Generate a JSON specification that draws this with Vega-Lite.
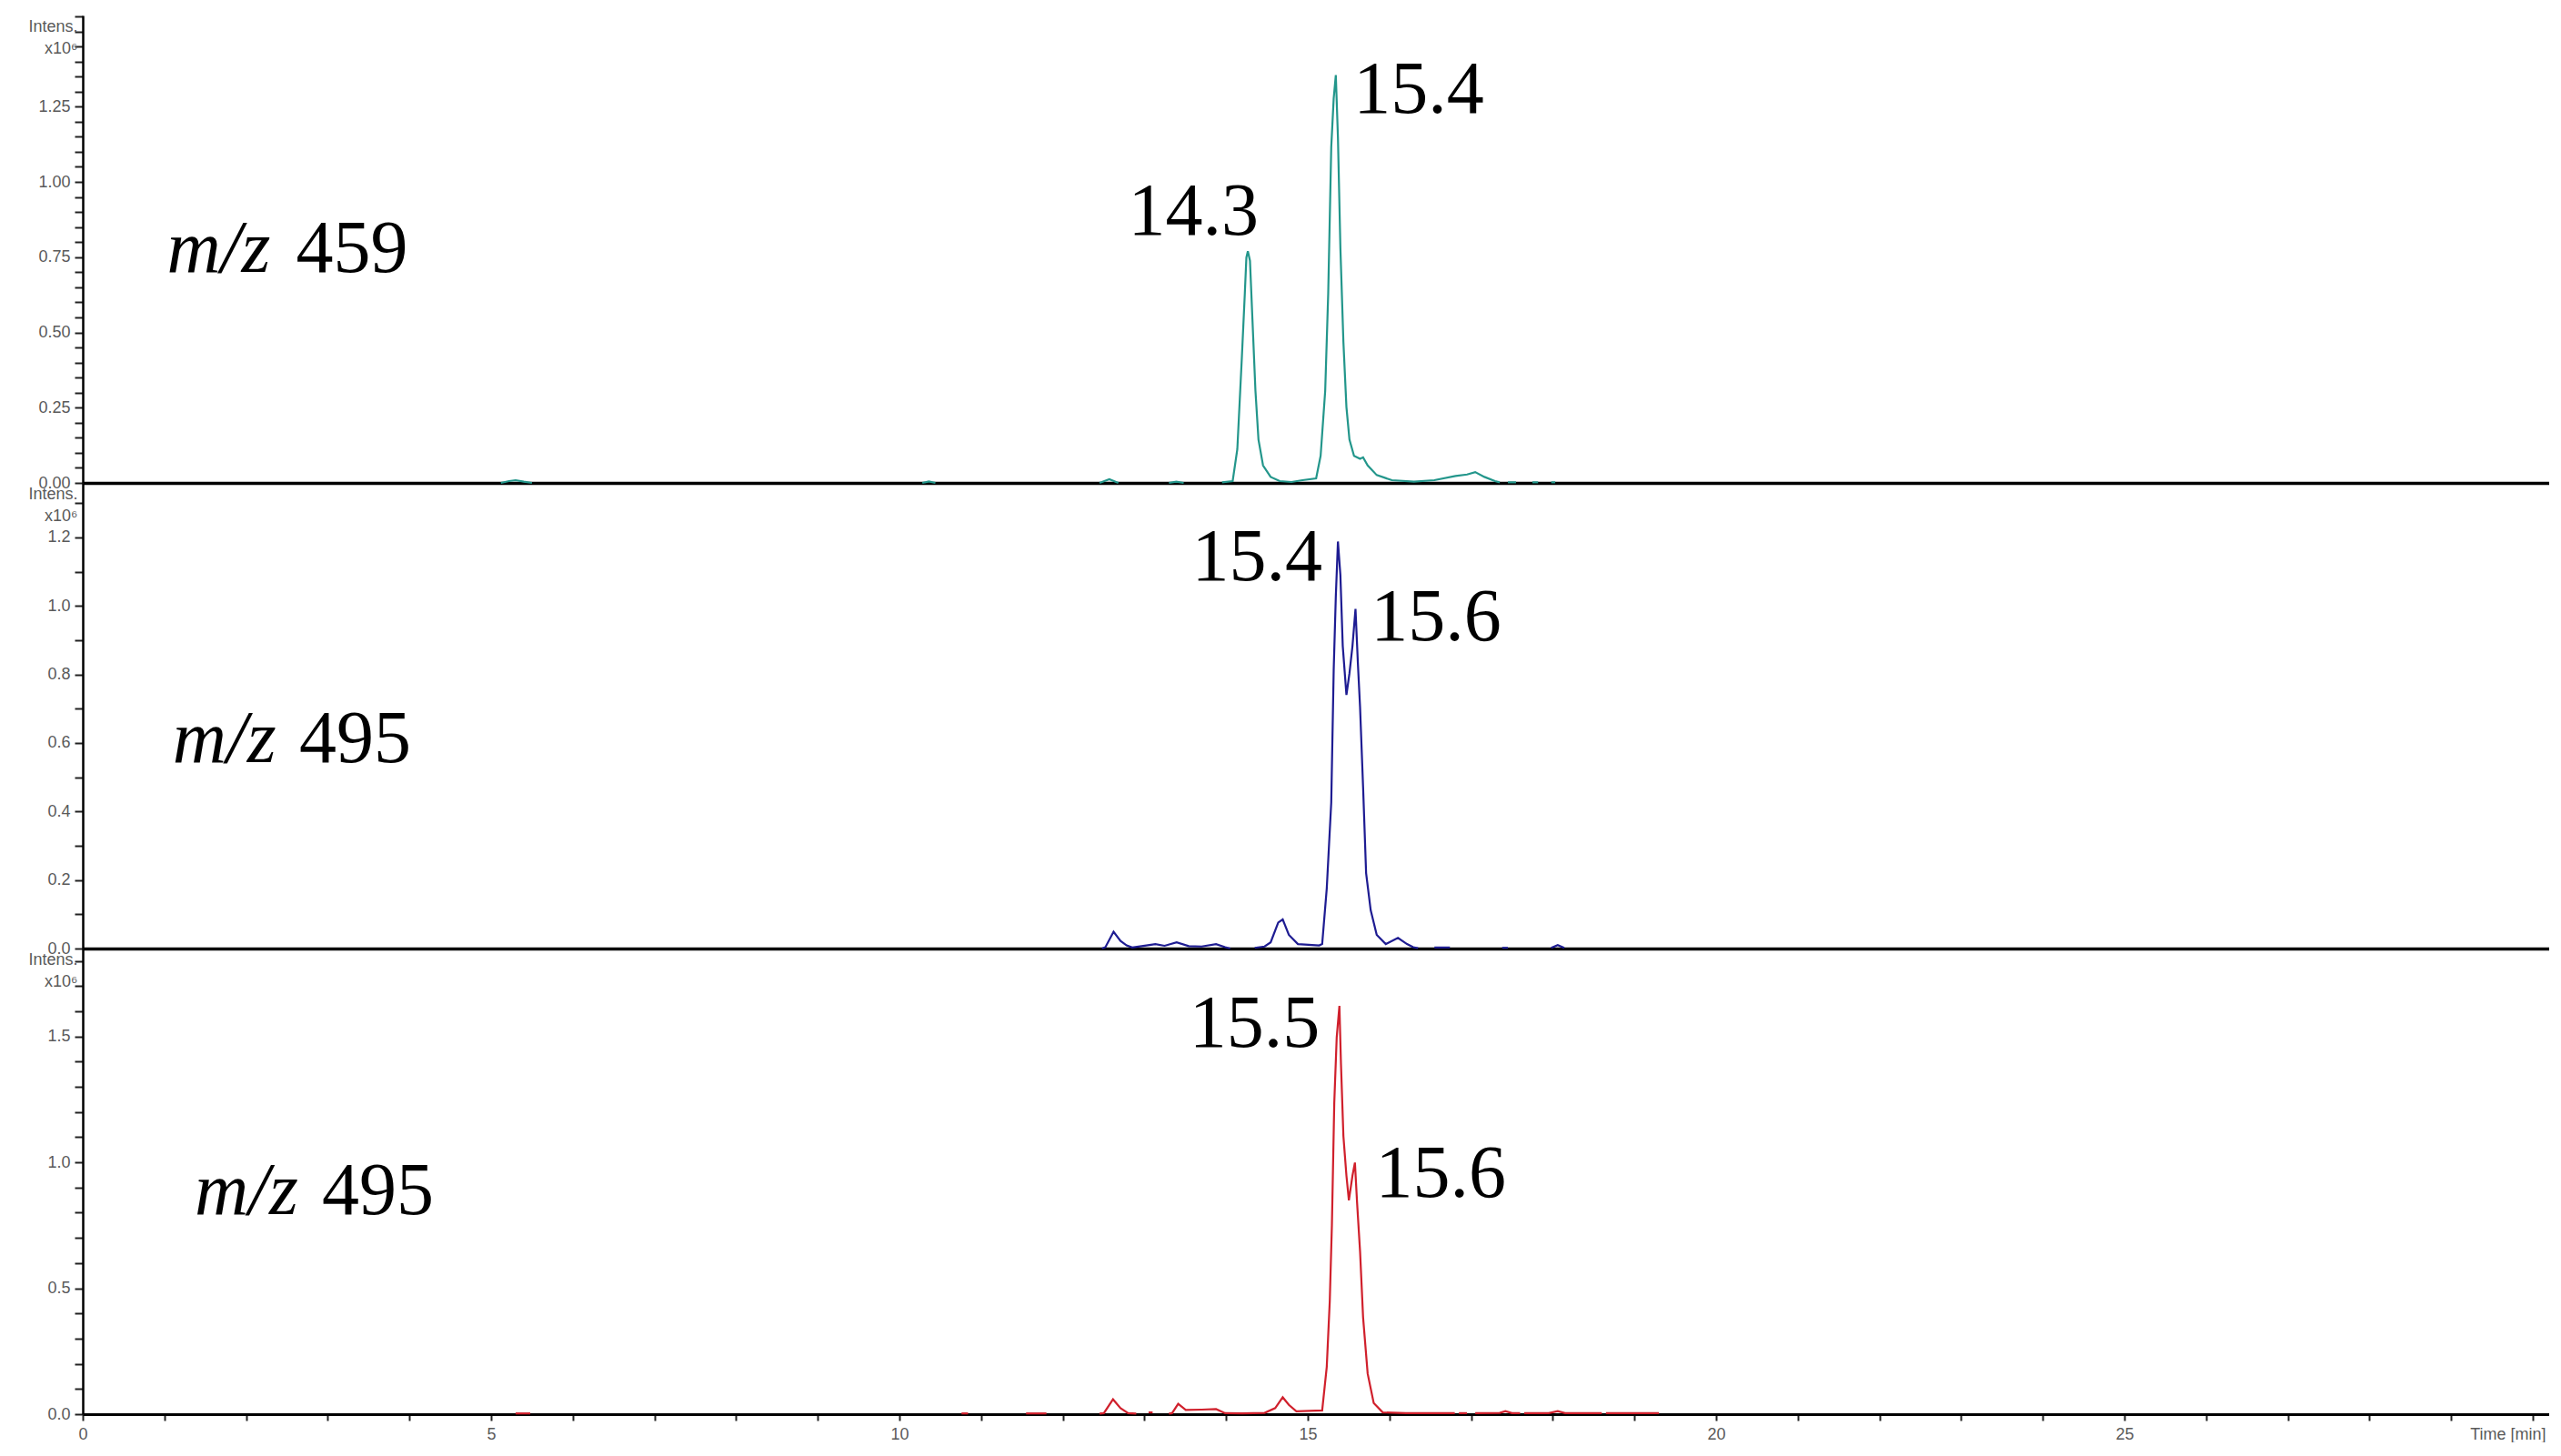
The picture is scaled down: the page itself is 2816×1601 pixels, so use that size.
{
  "$schema": "https://vega.github.io/schema/vega-lite/v6.json",
  "padding": {"left": 30, "top": 8, "right": 0, "bottom": 0},
  "spacing": 0,
  "bounds": "flush",
  "background": "white",
  "config": {
    "view": {"stroke": null},
    "axis": {
      "labelFont": "Liberation Sans",
      "labelFontSize": 18,
      "labelColor": "#5a5a5a",
      "titleFont": "Liberation Sans",
      "titleFontSize": 18,
      "titleFontWeight": "normal",
      "titleColor": "#5a5a5a",
      "domainColor": "#000000",
      "tickColor": "#222222",
      "grid": false,
      "labelOverlap": false,
      "labelFlush": false,
      "labelBound": false
    },
    "text": {"font": "Liberation Serif", "fontSize": 82, "color": "#000000", "align": "left", "baseline": "alphabetic"}
  },
  "datasets": {
    "trace": [
      {"panel": "a", "seg": "a1", "t": 5.12, "v": 0},
      {"panel": "a", "seg": "a1", "t": 5.22, "v": 0.006},
      {"panel": "a", "seg": "a1", "t": 5.30, "v": 0.009},
      {"panel": "a", "seg": "a1", "t": 5.40, "v": 0.004},
      {"panel": "a", "seg": "a1", "t": 5.50, "v": 0},
      {"panel": "a", "seg": "a2", "t": 10.28, "v": 0},
      {"panel": "a", "seg": "a2", "t": 10.36, "v": 0.005},
      {"panel": "a", "seg": "a2", "t": 10.44, "v": 0},
      {"panel": "a", "seg": "a3", "t": 12.45, "v": 0},
      {"panel": "a", "seg": "a3", "t": 12.57, "v": 0.012},
      {"panel": "a", "seg": "a3", "t": 12.68, "v": 0},
      {"panel": "a", "seg": "a4", "t": 13.30, "v": 0},
      {"panel": "a", "seg": "a4", "t": 13.39, "v": 0.004},
      {"panel": "a", "seg": "a4", "t": 13.48, "v": 0},
      {"panel": "a", "seg": "a5", "t": 13.95, "v": 0.002},
      {"panel": "a", "seg": "a5", "t": 14.08, "v": 0.006},
      {"panel": "a", "seg": "a5", "t": 14.137, "v": 0.112},
      {"panel": "a", "seg": "a5", "t": 14.192, "v": 0.414},
      {"panel": "a", "seg": "a5", "t": 14.229, "v": 0.630},
      {"panel": "a", "seg": "a5", "t": 14.248, "v": 0.749},
      {"panel": "a", "seg": "a5", "t": 14.266, "v": 0.770},
      {"panel": "a", "seg": "a5", "t": 14.292, "v": 0.738},
      {"panel": "a", "seg": "a5", "t": 14.322, "v": 0.544},
      {"panel": "a", "seg": "a5", "t": 14.359, "v": 0.306},
      {"panel": "a", "seg": "a5", "t": 14.396, "v": 0.144},
      {"panel": "a", "seg": "a5", "t": 14.452, "v": 0.058},
      {"panel": "a", "seg": "a5", "t": 14.545, "v": 0.020},
      {"panel": "a", "seg": "a5", "t": 14.656, "v": 0.006},
      {"panel": "a", "seg": "a5", "t": 14.80, "v": 0.003},
      {"panel": "a", "seg": "a5", "t": 14.935, "v": 0.009},
      {"panel": "a", "seg": "a5", "t": 15.102, "v": 0.015},
      {"panel": "a", "seg": "a5", "t": 15.157, "v": 0.090},
      {"panel": "a", "seg": "a5", "t": 15.213, "v": 0.306},
      {"panel": "a", "seg": "a5", "t": 15.250, "v": 0.630},
      {"panel": "a", "seg": "a5", "t": 15.287, "v": 1.115},
      {"panel": "a", "seg": "a5", "t": 15.317, "v": 1.277},
      {"panel": "a", "seg": "a5", "t": 15.343, "v": 1.355},
      {"panel": "a", "seg": "a5", "t": 15.369, "v": 1.148},
      {"panel": "a", "seg": "a5", "t": 15.399, "v": 0.781},
      {"panel": "a", "seg": "a5", "t": 15.436, "v": 0.468},
      {"panel": "a", "seg": "a5", "t": 15.473, "v": 0.252},
      {"panel": "a", "seg": "a5", "t": 15.510, "v": 0.144},
      {"panel": "a", "seg": "a5", "t": 15.566, "v": 0.090},
      {"panel": "a", "seg": "a5", "t": 15.640, "v": 0.080},
      {"panel": "a", "seg": "a5", "t": 15.677, "v": 0.085},
      {"panel": "a", "seg": "a5", "t": 15.733, "v": 0.058},
      {"panel": "a", "seg": "a5", "t": 15.844, "v": 0.026},
      {"panel": "a", "seg": "a5", "t": 16.030, "v": 0.009},
      {"panel": "a", "seg": "a5", "t": 16.30, "v": 0.004},
      {"panel": "a", "seg": "a5", "t": 16.549, "v": 0.009},
      {"panel": "a", "seg": "a5", "t": 16.809, "v": 0.023},
      {"panel": "a", "seg": "a5", "t": 16.95, "v": 0.028},
      {"panel": "a", "seg": "a5", "t": 17.050, "v": 0.036},
      {"panel": "a", "seg": "a5", "t": 17.162, "v": 0.020},
      {"panel": "a", "seg": "a5", "t": 17.292, "v": 0.006},
      {"panel": "a", "seg": "a5", "t": 17.35, "v": 0.002},
      {"panel": "a", "seg": "a6", "t": 17.45, "v": 0.002},
      {"panel": "a", "seg": "a6", "t": 17.55, "v": 0.002},
      {"panel": "a", "seg": "a7", "t": 17.75, "v": 0.002},
      {"panel": "a", "seg": "a7", "t": 17.82, "v": 0.002},
      {"panel": "a", "seg": "a8", "t": 17.98, "v": 0.002},
      {"panel": "a", "seg": "a8", "t": 18.03, "v": 0.002},

      {"panel": "b", "seg": "b1", "t": 12.48, "v": 0},
      {"panel": "b", "seg": "b1", "t": 12.522, "v": 0.004},
      {"panel": "b", "seg": "b1", "t": 12.622, "v": 0.049},
      {"panel": "b", "seg": "b1", "t": 12.707, "v": 0.022},
      {"panel": "b", "seg": "b1", "t": 12.782, "v": 0.009},
      {"panel": "b", "seg": "b1", "t": 12.85, "v": 0.003},
      {"panel": "b", "seg": "b1", "t": 13.023, "v": 0.009},
      {"panel": "b", "seg": "b1", "t": 13.134, "v": 0.013},
      {"panel": "b", "seg": "b1", "t": 13.246, "v": 0.008},
      {"panel": "b", "seg": "b1", "t": 13.394, "v": 0.018},
      {"panel": "b", "seg": "b1", "t": 13.543, "v": 0.007},
      {"panel": "b", "seg": "b1", "t": 13.70, "v": 0.006},
      {"panel": "b", "seg": "b1", "t": 13.877, "v": 0.013},
      {"panel": "b", "seg": "b1", "t": 13.988, "v": 0.004},
      {"panel": "b", "seg": "b1", "t": 14.05, "v": 0},
      {"panel": "b", "seg": "b2", "t": 14.35, "v": 0.002},
      {"panel": "b", "seg": "b2", "t": 14.471, "v": 0.006},
      {"panel": "b", "seg": "b2", "t": 14.545, "v": 0.018},
      {"panel": "b", "seg": "b2", "t": 14.638, "v": 0.076},
      {"panel": "b", "seg": "b2", "t": 14.693, "v": 0.085},
      {"panel": "b", "seg": "b2", "t": 14.768, "v": 0.040},
      {"panel": "b", "seg": "b2", "t": 14.879, "v": 0.013},
      {"panel": "b", "seg": "b2", "t": 15.139, "v": 0.009},
      {"panel": "b", "seg": "b2", "t": 15.176, "v": 0.013},
      {"panel": "b", "seg": "b2", "t": 15.232, "v": 0.175},
      {"panel": "b", "seg": "b2", "t": 15.287, "v": 0.426},
      {"panel": "b", "seg": "b2", "t": 15.317, "v": 0.812},
      {"panel": "b", "seg": "b2", "t": 15.343, "v": 1.027},
      {"panel": "b", "seg": "b2", "t": 15.369, "v": 1.188},
      {"panel": "b", "seg": "b2", "t": 15.399, "v": 1.090},
      {"panel": "b", "seg": "b2", "t": 15.428, "v": 0.883},
      {"panel": "b", "seg": "b2", "t": 15.473, "v": 0.740},
      {"panel": "b", "seg": "b2", "t": 15.510, "v": 0.803},
      {"panel": "b", "seg": "b2", "t": 15.547, "v": 0.883},
      {"panel": "b", "seg": "b2", "t": 15.584, "v": 0.991},
      {"panel": "b", "seg": "b2", "t": 15.614, "v": 0.829},
      {"panel": "b", "seg": "b2", "t": 15.640, "v": 0.704},
      {"panel": "b", "seg": "b2", "t": 15.677, "v": 0.471},
      {"panel": "b", "seg": "b2", "t": 15.714, "v": 0.220},
      {"panel": "b", "seg": "b2", "t": 15.770, "v": 0.112},
      {"panel": "b", "seg": "b2", "t": 15.844, "v": 0.040},
      {"panel": "b", "seg": "b2", "t": 15.955, "v": 0.013},
      {"panel": "b", "seg": "b2", "t": 16.104, "v": 0.031},
      {"panel": "b", "seg": "b2", "t": 16.215, "v": 0.013},
      {"panel": "b", "seg": "b2", "t": 16.290, "v": 0.004},
      {"panel": "b", "seg": "b2", "t": 16.35, "v": 0.001},
      {"panel": "b", "seg": "b3", "t": 16.55, "v": 0.003},
      {"panel": "b", "seg": "b3", "t": 16.74, "v": 0.003},
      {"panel": "b", "seg": "b4", "t": 17.38, "v": 0.002},
      {"panel": "b", "seg": "b4", "t": 17.45, "v": 0.002},
      {"panel": "b", "seg": "b5", "t": 17.98, "v": 0.002},
      {"panel": "b", "seg": "b5", "t": 18.06, "v": 0.010},
      {"panel": "b", "seg": "b5", "t": 18.14, "v": 0.002},

      {"panel": "c", "seg": "c1", "t": 5.30, "v": 0.003},
      {"panel": "c", "seg": "c1", "t": 5.48, "v": 0.003},
      {"panel": "c", "seg": "c2", "t": 10.76, "v": 0.003},
      {"panel": "c", "seg": "c2", "t": 10.84, "v": 0.003},
      {"panel": "c", "seg": "c3", "t": 11.55, "v": 0.003},
      {"panel": "c", "seg": "c3", "t": 11.80, "v": 0.003},
      {"panel": "c", "seg": "c4", "t": 12.45, "v": 0.002},
      {"panel": "c", "seg": "c4", "t": 12.503, "v": 0.004},
      {"panel": "c", "seg": "c4", "t": 12.615, "v": 0.059},
      {"panel": "c", "seg": "c4", "t": 12.707, "v": 0.024},
      {"panel": "c", "seg": "c4", "t": 12.800, "v": 0.004},
      {"panel": "c", "seg": "c4", "t": 12.90, "v": 0.002},
      {"panel": "c", "seg": "c5", "t": 13.05, "v": 0.007},
      {"panel": "c", "seg": "c5", "t": 13.10, "v": 0.007},
      {"panel": "c", "seg": "c6", "t": 13.30, "v": 0.002},
      {"panel": "c", "seg": "c6", "t": 13.338, "v": 0.004},
      {"panel": "c", "seg": "c6", "t": 13.413, "v": 0.041},
      {"panel": "c", "seg": "c6", "t": 13.506, "v": 0.017},
      {"panel": "c", "seg": "c6", "t": 13.70, "v": 0.018},
      {"panel": "c", "seg": "c6", "t": 13.877, "v": 0.020},
      {"panel": "c", "seg": "c6", "t": 13.988, "v": 0.004},
      {"panel": "c", "seg": "c6", "t": 14.20, "v": 0.003},
      {"panel": "c", "seg": "c6", "t": 14.471, "v": 0.005},
      {"panel": "c", "seg": "c6", "t": 14.601, "v": 0.024},
      {"panel": "c", "seg": "c6", "t": 14.693, "v": 0.067},
      {"panel": "c", "seg": "c6", "t": 14.768, "v": 0.037},
      {"panel": "c", "seg": "c6", "t": 14.860, "v": 0.011},
      {"panel": "c", "seg": "c6", "t": 15.176, "v": 0.015},
      {"panel": "c", "seg": "c6", "t": 15.232, "v": 0.187},
      {"panel": "c", "seg": "c6", "t": 15.269, "v": 0.449},
      {"panel": "c", "seg": "c6", "t": 15.295, "v": 0.750},
      {"panel": "c", "seg": "c6", "t": 15.324, "v": 1.235},
      {"panel": "c", "seg": "c6", "t": 15.354, "v": 1.497},
      {"panel": "c", "seg": "c6", "t": 15.387, "v": 1.621},
      {"panel": "c", "seg": "c6", "t": 15.406, "v": 1.392},
      {"panel": "c", "seg": "c6", "t": 15.436, "v": 1.104},
      {"panel": "c", "seg": "c6", "t": 15.473, "v": 0.947},
      {"panel": "c", "seg": "c6", "t": 15.503, "v": 0.849},
      {"panel": "c", "seg": "c6", "t": 15.547, "v": 0.947},
      {"panel": "c", "seg": "c6", "t": 15.577, "v": 0.999},
      {"panel": "c", "seg": "c6", "t": 15.603, "v": 0.842},
      {"panel": "c", "seg": "c6", "t": 15.640, "v": 0.646},
      {"panel": "c", "seg": "c6", "t": 15.677, "v": 0.384},
      {"panel": "c", "seg": "c6", "t": 15.733, "v": 0.161},
      {"panel": "c", "seg": "c6", "t": 15.807, "v": 0.044},
      {"panel": "c", "seg": "c6", "t": 15.918, "v": 0.007},
      {"panel": "c", "seg": "c6", "t": 16.20, "v": 0.004},
      {"panel": "c", "seg": "c6", "t": 16.80, "v": 0.004},
      {"panel": "c", "seg": "c7", "t": 16.85, "v": 0.004},
      {"panel": "c", "seg": "c7", "t": 16.95, "v": 0.004},
      {"panel": "c", "seg": "c8", "t": 17.05, "v": 0.004},
      {"panel": "c", "seg": "c8", "t": 17.35, "v": 0.005},
      {"panel": "c", "seg": "c8", "t": 17.42, "v": 0.012},
      {"panel": "c", "seg": "c8", "t": 17.50, "v": 0.004},
      {"panel": "c", "seg": "c8", "t": 17.60, "v": 0.004},
      {"panel": "c", "seg": "c9", "t": 17.65, "v": 0.004},
      {"panel": "c", "seg": "c9", "t": 17.95, "v": 0.004},
      {"panel": "c", "seg": "c9", "t": 18.06, "v": 0.012},
      {"panel": "c", "seg": "c9", "t": 18.15, "v": 0.004},
      {"panel": "c", "seg": "c9", "t": 18.60, "v": 0.004},
      {"panel": "c", "seg": "c10", "t": 18.65, "v": 0.004},
      {"panel": "c", "seg": "c10", "t": 19.30, "v": 0.004}
    ],
    "labels": [
      {"panel": "a", "kind": "italic", "t": 1.03, "v": 0.701, "text": "m/z"},
      {"panel": "a", "kind": "normal", "t": 2.61, "v": 0.701, "text": "459"},
      {"panel": "a", "kind": "normal", "t": 12.80, "v": 0.825, "text": "14.3"},
      {"panel": "a", "kind": "normal", "t": 15.56, "v": 1.230, "text": "15.4"},
      {"panel": "b", "kind": "italic", "t": 1.10, "v": 0.544, "text": "m/z"},
      {"panel": "b", "kind": "normal", "t": 2.65, "v": 0.544, "text": "495"},
      {"panel": "b", "kind": "normal", "t": 13.58, "v": 1.076, "text": "15.4"},
      {"panel": "b", "kind": "normal", "t": 15.77, "v": 0.901, "text": "15.6"},
      {"panel": "c", "kind": "italic", "t": 1.37, "v": 0.793, "text": "m/z"},
      {"panel": "c", "kind": "normal", "t": 2.93, "v": 0.793, "text": "495"},
      {"panel": "c", "kind": "normal", "t": 13.55, "v": 1.458, "text": "15.5"},
      {"panel": "c", "kind": "normal", "t": 15.83, "v": 0.862, "text": "15.6"}
    ]
  },
  "vconcat": [
    {
      "width": 2712,
      "height": 514,
      "encoding": {
        "x": {"field": "t", "type": "quantitative", "scale": {"domain": [0, 30.2], "nice": false, "zero": false},
              "axis": {"labels": false, "ticks": false, "title": null, "domainWidth": 3.5, "zindex": 0}},
        "y": {"field": "v", "type": "quantitative", "scale": {"domain": [0, 1.553], "nice": false},
              "axis": {"values": [0,0.05,0.1,0.15,0.2,0.25,0.3,0.35,0.4,0.45,0.5,0.55,0.6,0.65,0.7,0.75,0.8,0.85,0.9,0.95,1,1.05,1.1,1.15,1.2,1.25,1.3,1.35,1.4,1.45,1.5,1.55],
                       "labelExpr": "abs(datum.value*4 - round(datum.value*4)) < 0.001 && datum.value < 1.3 ? format(datum.value, '.2f') : ''",
                       "tickSize": 9, "tickWidth": 2, "labelPadding": 5, "domainWidth": 2.5,
                       "title": ["Intens.", "x10⁶"], "titleAngle": 0, "titleAlign": "right", "titleBaseline": "top",
                       "titleX": -6, "titleY": 3, "titleLineHeight": 24}}
      },
      "layer": [
        {"data": {"values": [{}]}, "mark": {"type": "rule", "color": "#9a9a9a", "strokeWidth": 2},
         "encoding": {"x": {"datum": 0}, "x2": {"datum": 30.2}, "y": {"datum": 1.553}}},
        {"data": {"values": [{}]}, "mark": {"type": "rule", "color": "#9a9a9a", "strokeWidth": 2},
         "encoding": {"x": {"datum": 30.2}, "y": {"datum": 0}, "y2": {"datum": 1.553}}},
        {"data": {"name": "trace"}, "transform": [{"filter": "datum.panel == 'a'"}],
         "mark": {"type": "line", "color": "#23968b", "strokeWidth": 2.2},
         "encoding": {"detail": {"field": "seg"}}},
        {"data": {"name": "labels"}, "transform": [{"filter": "datum.panel == 'a' && datum.kind == 'italic'"}],
         "mark": {"type": "text", "fontStyle": "italic"}, "encoding": {"text": {"field": "text"}}},
        {"data": {"name": "labels"}, "transform": [{"filter": "datum.panel == 'a' && datum.kind == 'normal'"}],
         "mark": {"type": "text"}, "encoding": {"text": {"field": "text"}}}
      ]
    },
    {
      "width": 2712,
      "height": 512,
      "encoding": {
        "x": {"field": "t", "type": "quantitative", "scale": {"domain": [0, 30.2], "nice": false, "zero": false},
              "axis": {"labels": false, "ticks": false, "title": null, "domainWidth": 3.5, "zindex": 0}},
        "y": {"field": "v", "type": "quantitative", "scale": {"domain": [0, 1.359], "nice": false},
              "axis": {"values": [0,0.1,0.2,0.3,0.4,0.5,0.6,0.7,0.8,0.9,1,1.1,1.2,1.3],
                       "labelExpr": "abs(datum.value*5 - round(datum.value*5)) < 0.001 ? format(datum.value, '.1f') : ''",
                       "tickSize": 9, "tickWidth": 2, "labelPadding": 5, "domainWidth": 2.5,
                       "title": ["Intens.", "x10⁶"], "titleAngle": 0, "titleAlign": "right", "titleBaseline": "top",
                       "titleX": -6, "titleY": 3, "titleLineHeight": 24}}
      },
      "layer": [
        {"data": {"values": [{}]}, "mark": {"type": "rule", "color": "#9a9a9a", "strokeWidth": 2},
         "encoding": {"x": {"datum": 30.2}, "y": {"datum": 0}, "y2": {"datum": 1.359}}},
        {"data": {"name": "trace"}, "transform": [{"filter": "datum.panel == 'b'"}],
         "mark": {"type": "line", "color": "#1e1c92", "strokeWidth": 2.2},
         "encoding": {"detail": {"field": "seg"}}},
        {"data": {"name": "labels"}, "transform": [{"filter": "datum.panel == 'b' && datum.kind == 'italic'"}],
         "mark": {"type": "text", "fontStyle": "italic"}, "encoding": {"text": {"field": "text"}}},
        {"data": {"name": "labels"}, "transform": [{"filter": "datum.panel == 'b' && datum.kind == 'normal'"}],
         "mark": {"type": "text"}, "encoding": {"text": {"field": "text"}}}
      ]
    },
    {
      "width": 2712,
      "height": 512,
      "encoding": {
        "x": {"field": "t", "type": "quantitative", "scale": {"domain": [0, 30.2], "nice": false, "zero": false},
              "axis": {"values": [0,1,2,3,4,5,6,7,8,9,10,11,12,13,14,15,16,17,18,19,20,21,22,23,24,25,26,27,28,29,30],
                       "labelExpr": "datum.value == 30 ? 'Time [min]' : (datum.value % 5 == 0 ? datum.label : '')",
                       "labelAlign": {"condition": {"test": "datum.value == 30", "value": "right"}, "value": "center"},
                       "labelOffset": {"condition": {"test": "datum.value == 30", "value": 14}, "value": 0},
                       "tickSize": 7, "tickWidth": 2, "labelPadding": 6, "domainWidth": 3, "title": null, "zindex": 0}},
        "y": {"field": "v", "type": "quantitative", "scale": {"domain": [0, 1.849], "nice": false},
              "axis": {"values": [0,0.1,0.2,0.3,0.4,0.5,0.6,0.7,0.8,0.9,1,1.1,1.2,1.3,1.4,1.5,1.6,1.7,1.8],
                       "labelExpr": "abs(datum.value*2 - round(datum.value*2)) < 0.001 ? format(datum.value, '.1f') : ''",
                       "tickSize": 9, "tickWidth": 2, "labelPadding": 5, "domainWidth": 2.5,
                       "title": ["Intens.", "x10⁶"], "titleAngle": 0, "titleAlign": "right", "titleBaseline": "top",
                       "titleX": -6, "titleY": 3, "titleLineHeight": 24}}
      },
      "layer": [
        {"data": {"values": [{}]}, "mark": {"type": "rule", "color": "#9a9a9a", "strokeWidth": 2},
         "encoding": {"x": {"datum": 30.2}, "y": {"datum": 0}, "y2": {"datum": 1.849}}},
        {"data": {"name": "trace"}, "transform": [{"filter": "datum.panel == 'c'"}],
         "mark": {"type": "line", "color": "#d0202c", "strokeWidth": 2.2},
         "encoding": {"detail": {"field": "seg"}}},
        {"data": {"name": "labels"}, "transform": [{"filter": "datum.panel == 'c' && datum.kind == 'italic'"}],
         "mark": {"type": "text", "fontStyle": "italic"}, "encoding": {"text": {"field": "text"}}},
        {"data": {"name": "labels"}, "transform": [{"filter": "datum.panel == 'c' && datum.kind == 'normal'"}],
         "mark": {"type": "text"}, "encoding": {"text": {"field": "text"}}}
      ]
    }
  ]
}
